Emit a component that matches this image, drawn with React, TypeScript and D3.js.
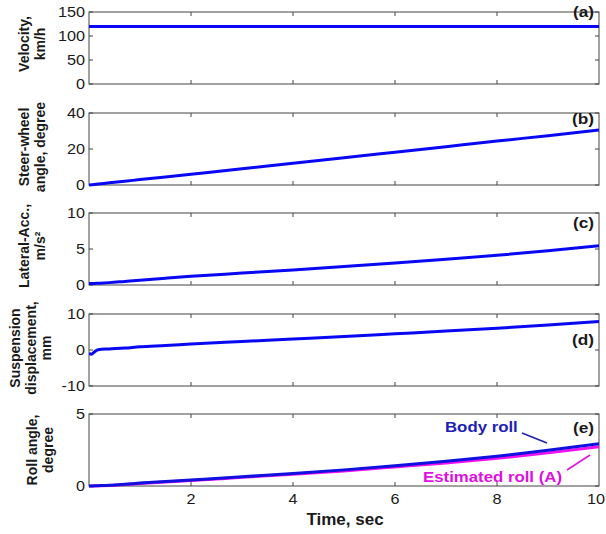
import React from "react";
import * as d3 from "d3";

// Sample times (s) shared by every recorded signal
const time = [0, 0.04, 0.1, 0.18, 0.4, 0.7, 1, 1.5, 2, 3, 4, 5, 6, 7, 8, 9, 10];
const velocity = [120, 120, 120, 120, 120, 120, 120, 120, 120, 120, 120, 120, 120, 120, 120, 120, 120];
const steerAngle = [0, 0.12, 0.3, 0.54, 1.2, 2.1, 3, 4.5, 6, 9, 12.1, 15.1, 18.2, 21.3, 24.4, 27.4, 30.5];
const lateralAcc = [0.2, 0.2, 0.21, 0.24, 0.33, 0.5, 0.67, 0.94, 1.2, 1.65, 2.1, 2.57, 3.06, 3.57, 4.12, 4.75, 5.45];
const suspension = [-0.9, -1.2, -0.6, 0.1, 0.3, 0.55, 0.9, 1.25, 1.65, 2.35, 3.05, 3.75, 4.5, 5.25, 6.05, 6.95, 7.9];
const bodyRoll = [0, 0.005, 0.01, 0.02, 0.05, 0.12, 0.2, 0.31, 0.42, 0.64, 0.87, 1.12, 1.41, 1.72, 2.07, 2.48, 2.93];
const estimatedRoll = [0, 0.004, 0.008, 0.016, 0.04, 0.1, 0.17, 0.28, 0.38, 0.6, 0.82, 1.05, 1.32, 1.6, 1.92, 2.3, 2.72];

const xTicks = [2, 4, 6, 8, 10];
const panelTags = ["(a)", "(b)", "(c)", "(d)", "(e)"];
const yDomains: [number, number][] = [[0, 150], [0, 40], [0, 10], [-10, 10], [0, 5]];
const yTicks = [[0, 50, 100, 150], [0, 20, 40], [0, 5, 10], [-10, 0, 10], [0, 5]];
const yLabels: string[][] = [
  ["Velocity,", "km/h"],
  ["Steer-wheel", "angle, degree"],
  ["Lateral-Acc.,", "m/s²"],
  ["Suspension", "displacement,", "mm"],
  ["Roll angle,", "degree"],
];

const W = 606;
const H = 534;
const left = 89;
const right = 599;
const panelTop = [12, 113, 213, 314, 414];
const panelH = 72;
const labelX = [[23.5, 39.5], [24, 40], [23.5, 40], [15, 31, 46], [32, 48]];
const labelCY = [44, 147, 246, 348, 450];
const tagBaseline = [17, 124, 228, 345, 433];

const AXIS = "#444";
const TEXT = "#1a1a1a";
const BLUE = "#0808f4";
const FONT = "'Liberation Sans', Arial, sans-serif";

const x = d3.scaleLinear().domain([0, 10]).range([left, right]);

function Panel({ i, series }: { i: number; series: { values: number[]; color: string }[] }) {
  const top = panelTop[i];
  const bottom = top + panelH;
  const y = d3.scaleLinear().domain(yDomains[i]).range([bottom, top]);
  const line = d3
    .line<number>()
    .x((_, k) => x(time[k]))
    .y((v) => y(v))
    .curve(d3.curveMonotoneX);
  const tick = 4;
  return (
    <g>
      <defs>
        <clipPath id={`clip${i}`}>
          <rect x={left} y={top - 2} width={right - left} height={panelH + 4} />
        </clipPath>
      </defs>
      <rect x={left} y={top} width={right - left} height={panelH} fill="#fff" stroke={AXIS} strokeWidth={1} />
      {xTicks.slice(0, -1).map((t) => (
        <g key={t}>
          <line x1={x(t)} x2={x(t)} y1={bottom} y2={bottom - tick} stroke={AXIS} />
          <line x1={x(t)} x2={x(t)} y1={top} y2={top + tick} stroke={AXIS} />
        </g>
      ))}
      {yTicks[i].map((v) => (
        <g key={v}>
          <line x1={left} x2={left + tick} y1={y(v)} y2={y(v)} stroke={AXIS} />
          <line x1={right} x2={right - tick} y1={y(v)} y2={y(v)} stroke={AXIS} />
          <text
            transform={`translate(${left - 4},${y(v)}) scale(1.08,1)`}
            dy="0.36em"
            textAnchor="end"
            fontSize={15}
            fill={TEXT}
            fontFamily={FONT}
          >
            {v}
          </text>
        </g>
      ))}
      <g clipPath={`url(#clip${i})`}>
        {series.map((s, k) => (
          <path key={k} d={line(s.values) || ""} fill="none" stroke={s.color} strokeWidth={3} strokeLinejoin="round" />
        ))}
      </g>
      <text
        transform={`translate(594,${tagBaseline[i]}) scale(1.15,1)`}
        textAnchor="end"
        fontSize={15}
        fontWeight="bold"
        fill={TEXT}
        fontFamily={FONT}
      >
        {panelTags[i]}
      </text>
      {yLabels[i].map((s, k) => (
        <text
          key={k}
          transform={`translate(${labelX[i][k]},${labelCY[i]}) rotate(-90)`}
          textAnchor="middle"
          dominantBaseline="central"
          fontSize={14}
          fontWeight="bold"
          fill={TEXT}
          fontFamily={FONT}
        >
          {s}
        </text>
      ))}
    </g>
  );
}

export default function App() {
  const bottomAxis = panelTop[4] + panelH;
  return (
    <svg
      width={W}
      height={H}
      viewBox={`0 0 ${W} ${H}`}
      style={{ position: "absolute", left: 0, top: 0, background: "#fff" }}
    >
      <rect width={W} height={H} fill="#fff" />
      <Panel i={0} series={[{ values: velocity, color: BLUE }]} />
      <Panel i={1} series={[{ values: steerAngle, color: BLUE }]} />
      <Panel i={2} series={[{ values: lateralAcc, color: BLUE }]} />
      <Panel i={3} series={[{ values: suspension, color: BLUE }]} />
      <Panel
        i={4}
        series={[
          { values: estimatedRoll, color: "#f010f0" },
          { values: bodyRoll, color: "#1010e0" },
        ]}
      />
      {xTicks.map((t, k) => {
        // the last label sits against the page edge, so it is right-aligned there
        const last = k === xTicks.length - 1;
        return (
          <text
            key={t}
            transform={`translate(${last ? W - 1 : x(t)},${bottomAxis + 18}) scale(1.08,1)`}
            textAnchor={last ? "end" : "middle"}
            fontSize={15}
            fill={TEXT}
            fontFamily={FONT}
          >
            {t}
          </text>
        );
      })}
      <text x={345} y={525} textAnchor="middle" fontSize={17} fontWeight="bold" fill={TEXT} fontFamily={FONT}>
        Time, sec
      </text>
      {/* callouts naming the two roll traces */}
      <text
        transform="translate(445,432) scale(1.2,1)"
        fontSize={14}
        fontWeight="bold"
        fill="#1e1eb4"
        fontFamily={FONT}
      >
        Body roll
      </text>
      <line x1={522} y1={433} x2={547} y2={443} stroke="#1e1eb4" strokeWidth={1.5} />
      <text
        transform="translate(423,482) scale(1.2,1)"
        fontSize={14}
        fontWeight="bold"
        fill="#e010e0"
        fontFamily={FONT}
      >
        Estimated roll (A)
      </text>
      <line x1={567} y1={470} x2={590} y2={455} stroke="#e010e0" strokeWidth={1.5} />
    </svg>
  );
}
